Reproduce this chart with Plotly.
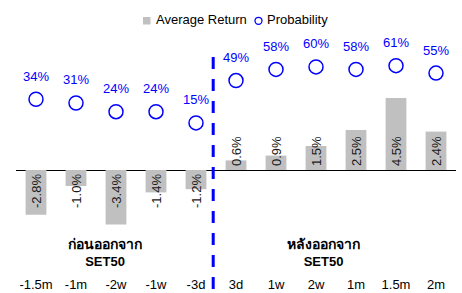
import plotly.graph_objects as go

categories = ["-1.5m", "-1m", "-2w", "-1w", "-3d", "3d", "1w", "2w", "1m", "1.5m", "2m"]
avg_return = [-2.8, -1.0, -3.4, -1.4, -1.2, 0.6, 0.9, 1.5, 2.5, 4.5, 2.4]
probability = [34, 31, 24, 24, 15, 49, 58, 60, 58, 61, 55]
thai_labels = ["ก่อนออกจาก", "หลังออกจาก"]
index_name = "SET50"
legend_names = ["Average Return", "Probability"]

FONT = "Arial, Liberation Sans, sans-serif"
BLUE = "#0000FF"
GRAY = "#C0C0C0"

# plot area in pixels: x 16..456, y 42..266
L, R, T, B = 16, 456, 42, 266
def px(x):
    return (x - L) / (R - L)
def py(y):
    return (B - y) / (B - T)

fig = go.Figure()
fig.add_trace(go.Bar(
    x=categories, y=avg_return, name=legend_names[0],
    marker=dict(color=GRAY, line=dict(width=0)), width=0.52,
    hoverinfo="skip", showlegend=False,
))
fig.add_trace(go.Scatter(
    x=categories, y=probability, name=legend_names[1], yaxis="y2",
    mode="markers",
    marker=dict(symbol="circle-open", size=14, color=BLUE, line=dict(width=1.5, color=BLUE)),
    hoverinfo="skip", showlegend=False,
))

annotations = []
for c, v in zip(categories, avg_return):
    annotations.append(dict(
        x=c, y=0, xref="x", yref="y", text=f"{v:.1f}%", showarrow=False,
        textangle=-90, font=dict(family=FONT, size=13, color="#1a1a1a"),
        yanchor="bottom" if v > 0 else "top", yshift=2 if v > 0 else -2,
    ))
for c, p in zip(categories, probability):
    annotations.append(dict(
        x=c, y=p, xref="x", yref="y2", text=f"{p}%", showarrow=False,
        font=dict(family=FONT, size=13, color=BLUE), yanchor="middle", yshift=23,
    ))
for xpos, lab in zip([1.73, 7.18], thai_labels):
    annotations.append(dict(
        x=xpos, y=py(252), xref="x", yref="paper",
        text=f"<b><span style='font-size:14px'>{lab}</span><br>{index_name}</b>",
        showarrow=False,
        font=dict(family=FONT, size=13, color="#000000"), yanchor="middle",
    ))
# legend text
annotations.append(dict(x=px(154), y=py(19.5), xref="paper", yref="paper", text=legend_names[0],
                        showarrow=False, xanchor="left", yanchor="middle",
                        font=dict(family=FONT, size=13, color="#000000")))
annotations.append(dict(x=px(265), y=py(19.5), xref="paper", yref="paper", text=legend_names[1],
                        showarrow=False, xanchor="left", yanchor="middle",
                        font=dict(family=FONT, size=13, color="#000000")))

shapes = [
    dict(type="line", xref="x", yref="paper", x0=4.43, x1=4.43, y0=py(57), y1=py(300),
         line=dict(color=BLUE, width=3, dash="12px,10px")),
    dict(type="rect", xref="paper", yref="paper", x0=px(143), x1=px(150.5), y0=py(24.5), y1=py(17),
         fillcolor=GRAY, line=dict(width=0)),
    dict(type="circle", xref="paper", yref="paper", x0=px(255), x1=px(262), y0=py(24.3), y1=py(17.3),
         line=dict(color=BLUE, width=1.3)),
]

fig.update_layout(
    width=462, height=293,
    margin=dict(l=L, r=462 - R, t=T, b=293 - B, autoexpand=False),
    paper_bgcolor="white", plot_bgcolor="white",
    font=dict(family=FONT, size=13, color="#000000"),
    showlegend=False,
    xaxis=dict(type="category", range=[-0.5, 10.5], showgrid=False, showline=False,
               ticks="", tickfont=dict(family=FONT, size=13, color="#000000"),
               ticklabelstandoff=9, automargin=False),
    yaxis=dict(range=[-6, 8], showgrid=False, showticklabels=False, zeroline=True,
               zerolinecolor="#000000", zerolinewidth=1, showline=False),
    yaxis2=dict(range=[-100, 80], overlaying="y", side="right", showgrid=False,
                showticklabels=False, zeroline=False, showline=False),
    annotations=annotations,
    shapes=shapes,
)

fig.write_html("out.html", post_script="document.body.style.margin='0';",
               config={"displayModeBar": False})
